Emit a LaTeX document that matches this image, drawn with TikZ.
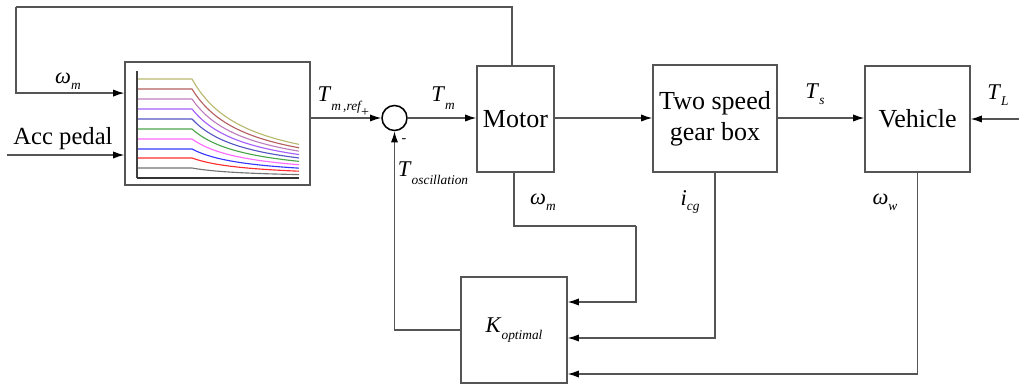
\documentclass[tikz,border=0pt]{standalone}
\usepackage{fontspec}
\setmainfont{Liberation Serif}
\newfontfamily\tms{Liberation Serif}
\usetikzlibrary{arrows.meta,positioning}

\definecolor{lineg}{RGB}{85,85,85}
\definecolor{cvA}{RGB}{185,185,110}
\definecolor{cvB}{RGB}{180,95,95}
\definecolor{cvC}{RGB}{190,125,190}
\definecolor{cvD}{RGB}{165,95,250}
\definecolor{cvE}{RGB}{85,85,195}
\definecolor{cvF}{RGB}{75,165,75}
\definecolor{cvG}{RGB}{255,105,255}
\definecolor{cvH}{RGB}{55,55,255}
\definecolor{cvI}{RGB}{255,45,45}
\definecolor{cvJ}{RGB}{115,115,115}

% signal label: italic symbol with a lowered italic index
\newcommand{\sig}[3][6pt]{\textit{#2}\raisebox{-#1}{\fontsize{9.5}{10}\selectfont\textit{#3}}}

\begin{document}
\begin{tikzpicture}[
    x=0.025cm, y=-0.025cm,
    >={Latex[length=2.8mm,width=1.8mm]},
    every node/.style={font=\tms\fontsize{16}{18}\selectfont, inner sep=0pt},
    line/.style={draw=lineg,line width=0.9pt},
    arr/.style={line,->,>={Latex[length=2.8mm,width=1.8mm,color=black]}},
    box/.style={draw=lineg,line width=0.9pt,align=center,font=\tms\fontsize{18.5}{22}\selectfont},
    sumnode/.style={draw=black,circle,line width=1.1pt,minimum size=0.625cm}
]
\useasboundingbox (0,0) rectangle (1019,385);

% Torque map
\node[box,minimum width=4.625cm,minimum height=3.075cm] (map) at (217.5,123.5) {};
\foreach \g/\c in {99/cvA,89/cvB,79/cvC,69/cvD,59/cvE,49/cvF,39/cvG,29/cvH,20/cvI,10/cvJ}
    \draw[\c,line width=0.8pt] (137,{178-\g}) -- (192,{178-\g})
        plot[domain=192:299,samples=30,smooth] (\x,{178-\g*55/(\x-137)});
\draw[black!75,line width=1pt] (137,71) -- (137,178);
\draw[black!80,line width=1.6pt] (137,178) -- (299,178);

% Blocks
\node[sumnode] (sum) at (394.5,118) {};
\node[box,minimum width=1.925cm,minimum height=2.65cm] (motor) at (515.5,119) {Motor};
\node[box,minimum width=3.1cm,minimum height=2.675cm] (gear) at (715,118.5) {Two speed\\gear box};
\node[box,minimum width=2.625cm,minimum height=2.65cm] (veh) at (917.5,119) {Vehicle};
\node[box,minimum width=2.65cm,minimum height=2.65cm,font=\tms\fontsize{16}{18}\selectfont] (kopt) at (514,330) {\sig[5pt]{K}{optimal}};

% Inputs
\coordinate (fbA) at (16,7);
\coordinate (acc) at (7,155);
\coordinate (tl) at (1019,119);
\draw[line] ([xshift=-0.9mm]motor.north) |- (fbA);
\draw[arr] (fbA) |- ([yshift=7.6mm]map.west);
\draw[arr] (acc) -- (acc -| map.west);
\draw[arr] (tl) -- (veh.east);

% Forward path
\draw[arr] (map.east |- sum) -- (sum.west);
\draw[arr] (sum.east) -- (sum.east -| motor.west);
\draw[arr] (motor.east |- sum) -- (sum -| gear.west);
\draw[arr] (gear.east |- sum) -- (sum -| veh.west);

% Feedback to K_optimal
\coordinate (wmA) at (636,226);
\draw[arr] (kopt.west) -| (sum.south);
\draw[line] ([xshift=-0.4mm]motor.south) |- (wmA);
\draw[arr] (wmA) |- ([yshift=7mm]kopt.east);
\draw[arr] (gear.south) |- ([yshift=-2mm]kopt.east);
\draw[arr] (veh.south) |- ([yshift=-11mm]kopt.east);

% Labels
\node at (63,139) {\fontsize{17.5}{21}\selectfont Acc pedal};
\node at (68,81) {\sig[4pt]{ω}{m}};
\node at (340,100) {\sig{T}{m\,,ref}};
\node at (365,113) {\fontsize{10}{12}\selectfont +};
\node at (404,141) {\fontsize{10}{12}\selectfont -};
\node at (443,98) {\sig{T}{m}};
\node at (433,173) {\sig{T}{oscillation}};
\node at (543,202) {\sig[4pt]{ω}{m}};
\node at (690,202) {\sig[4pt]{i}{cg}};
\node at (815,94) {\sig[4pt]{T}{s}};
\node at (885,202) {\sig[4pt]{ω}{w}};
\node at (998,95) {\sig[4pt]{T}{L}};

\end{tikzpicture}
\end{document}
